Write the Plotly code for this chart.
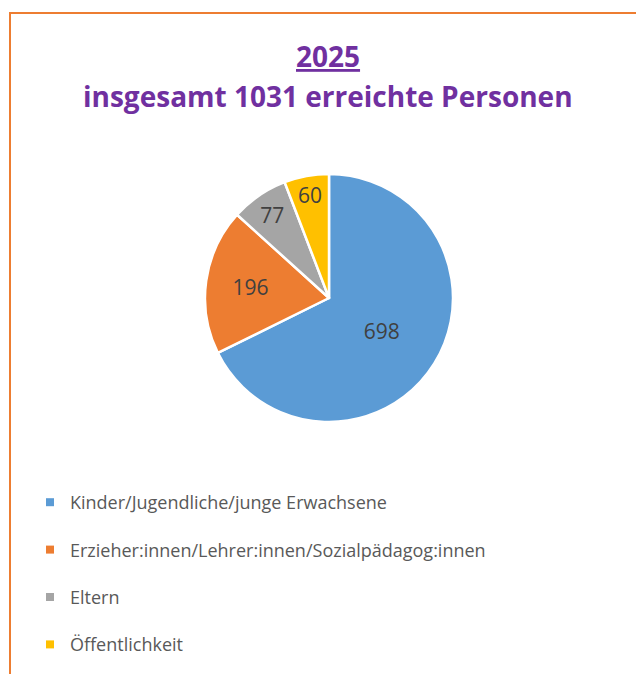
import plotly.graph_objects as go

# Daten
kategorien = [
    "Kinder/Jugendliche/junge Erwachsene",
    "Erzieher:innen/Lehrer:innen/Sozialpädagog:innen",
    "Eltern",
    "Öffentlichkeit",
]
werte = [698, 196, 77, 60]
farben = ["#5B9BD5", "#ED7D31", "#A5A5A5", "#FFC000"]

jahr = "2025"
gesamt = sum(werte)

W, H = 644, 674

fig = go.Figure()

fig.add_trace(go.Pie(
    labels=kategorien,
    values=werte,
    sort=False,
    direction="clockwise",
    rotation=0,
    marker=dict(colors=farben, line=dict(color="white", width=2.5)),
    textinfo="value",
    textposition="inside",
    insidetextorientation="horizontal",
    textfont=dict(family="Open Sans", size=21, color="#404040"),
    domain=dict(x=[197 / W, 445 / W], y=[1 - 414 / H, 1 - 166 / H]),
    showlegend=False,
    hoverinfo="label+value",
))

# Legende als eigene Einträge, damit der Zeilenabstand passt
for i, (k, c) in enumerate(zip(kategorien, farben)):
    fig.add_trace(go.Scatter(
        x=[None], y=[None], mode="markers", name=k,
        marker=dict(symbol="square", size=8, color=c),
        legendgroup=f"g{i}", showlegend=True,
    ))

fig.update_layout(
    width=W, height=H,
    margin=dict(l=0, r=0, t=0, b=0),
    paper_bgcolor="white", plot_bgcolor="white",
    xaxis=dict(visible=False), yaxis=dict(visible=False),
    uniformtext=dict(minsize=21, mode="show"),
    legend=dict(
        x=22 / W, y=1 - 476 / H, xanchor="left", yanchor="top",
        font=dict(family="Open Sans", size=18, color="#595959"),
        tracegroupgap=21, itemwidth=30, bgcolor="rgba(0,0,0,0)",
    ),
    annotations=[
        dict(text=f"<b><u>{jahr}</u></b>", x=320 / W, y=1 - 48 / H, xref="paper", yref="paper",
             yanchor="middle", showarrow=False,
             font=dict(family="Open Sans", size=28, color="#7030A0")),
        dict(text=f"<b>insgesamt {gesamt} erreichte Personen</b>", x=320 / W, y=1 - 88 / H,
             xref="paper", yref="paper", yanchor="middle", showarrow=False,
             font=dict(family="Open Sans", size=28, color="#7030A0")),
    ],
    shapes=[dict(type="rect", xref="paper", yref="paper",
                 x0=2 / W, x1=1.05, y0=-0.05, y1=1 - 5 / H,
                 line=dict(color="#ED7D31", width=2))],
)

fig.write_html("out.html")
